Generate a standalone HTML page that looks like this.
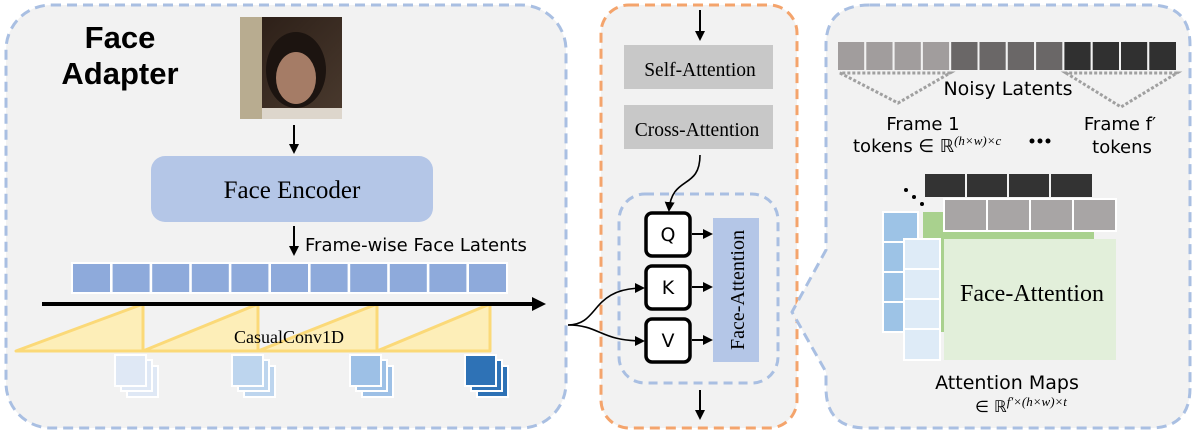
<!DOCTYPE html>
<html><head><meta charset="utf-8"><style>
html,body{margin:0;padding:0;background:#fff;}
svg{display:block;}
.s{font-family:"Liberation Serif",serif;}
.n{font-family:"DejaVu Sans","Liberation Sans",sans-serif;}
</style></head><body>
<svg width="1200" height="437" viewBox="0 0 1200 437" xmlns="http://www.w3.org/2000/svg">
<defs>
<marker id="ah" markerWidth="10" markerHeight="10" refX="8" refY="5" orient="auto" markerUnits="userSpaceOnUse">
<path d="M0,0 L10,5 L0,10 z" fill="#000"/></marker>
<linearGradient id="ph" x1="0" y1="0" x2="1" y2="1"><stop offset="0" stop-color="#2a1d16"/><stop offset="1" stop-color="#4a3a2e"/></linearGradient>
</defs>
<!-- Left panel -->
<rect x="6" y="5" width="560" height="423" rx="45" fill="#f2f2f2" stroke="#a9bfe2" stroke-width="3" stroke-dasharray="10 6"/>
<text x="120" y="48" font-family="Liberation Sans,sans-serif" font-weight="bold" font-size="31" text-anchor="middle">Face</text>
<text x="120" y="84" font-family="Liberation Sans,sans-serif" font-weight="bold" font-size="31" text-anchor="middle">Adapter</text>
<!-- photo stack -->
<rect x="250" y="27" width="92" height="92" fill="#3a2e24"/>
<rect x="247" y="24" width="92" height="92" fill="#d8d0bc"/>
<rect x="244" y="21" width="92" height="92" fill="#c8bea6"/>
<rect x="240" y="17" width="102" height="102" fill="url(#ph)"/>
<rect x="240" y="17" width="22" height="102" fill="#b8ac90"/>
<ellipse cx="296" cy="70" rx="30" ry="38" fill="#1c1410"/>
<ellipse cx="296" cy="78" rx="20" ry="26" fill="#a57c66"/>
<rect x="262" y="108" width="80" height="11" fill="#ddd6cc"/>
<line x1="294" y1="125" x2="294" y2="152" stroke="#000" stroke-width="2" marker-end="url(#ah)"/>
<rect x="151" y="156" width="282" height="66" rx="14" fill="#b4c6e7"/>
<text x="292" y="198" class="s" font-size="25" text-anchor="middle">Face Encoder</text>
<line x1="294" y1="226" x2="294" y2="254" stroke="#000" stroke-width="2" marker-end="url(#ah)"/>
<text x="305" y="251" class="n" font-size="18">Frame-wise Face Latents</text>
<g fill="#8eaadb" stroke="#fff" stroke-width="2">
<rect x="72" y="263" width="39" height="30"/><rect x="111.6" y="263" width="39" height="30"/><rect x="151.2" y="263" width="39" height="30"/><rect x="190.8" y="263" width="39" height="30"/><rect x="230.4" y="263" width="39" height="30"/><rect x="270" y="263" width="39" height="30"/><rect x="309.6" y="263" width="39" height="30"/><rect x="349.2" y="263" width="39" height="30"/><rect x="388.8" y="263" width="39" height="30"/><rect x="428.4" y="263" width="39" height="30"/><rect x="468" y="263" width="39" height="30"/>
</g>
<g fill="#fdeeb8" stroke="#fbd978" stroke-width="3" stroke-linejoin="round">
<path d="M16,351 L143,304 L143,351 z"/><path d="M143,351 L258,304 L258,351 z"/><path d="M258,351 L377,304 L377,351 z"/><path d="M377,351 L490,304 L490,351 z"/>
</g>
<line x1="42" y1="304" x2="536" y2="304" stroke="#000" stroke-width="4"/>
<path d="M532,297 L546,304 L532,311 z" fill="#000"/>
<text x="289" y="343" class="s" font-size="18" text-anchor="middle">CasualConv1D</text>
<g stroke="#fff" stroke-width="2">
<g fill="#dfe8f5"><rect x="127" y="366" width="31" height="31"/><rect x="121" y="360" width="31" height="31"/><rect x="115" y="355" width="31" height="31"/></g>
<g fill="#bdd5ee"><rect x="244" y="366" width="31" height="31"/><rect x="238" y="360" width="31" height="31"/><rect x="232" y="355" width="31" height="31"/></g>
<g fill="#9dc0e6"><rect x="362" y="366" width="31" height="31"/><rect x="356" y="360" width="31" height="31"/><rect x="350" y="355" width="31" height="31"/></g>
<g fill="#2e72b6"><rect x="477" y="366" width="31" height="31"/><rect x="471" y="360" width="31" height="31"/><rect x="465" y="355" width="31" height="31"/></g>
</g>
<!-- Middle panel -->
<rect x="601" y="5" width="196" height="423" rx="28" fill="#f2f2f2" stroke="#f4a46c" stroke-width="3" stroke-dasharray="10 6"/>
<line x1="700" y1="10" x2="700" y2="39" stroke="#000" stroke-width="2" marker-end="url(#ah)"/>
<rect x="624" y="45" width="149" height="44" fill="#c8c8c8"/>
<text x="700" y="76" class="s" font-size="19.5" text-anchor="middle">Self-Attention</text>
<rect x="624" y="105" width="149" height="44" fill="#c8c8c8"/>
<text x="697" y="136" class="s" font-size="19.5" text-anchor="middle">Cross-Attention</text>
<path d="M700,155 C700,190 672,175 669,210" fill="none" stroke="#000" stroke-width="1.6" marker-end="url(#ah)"/>
<rect x="619" y="194" width="159" height="189" rx="26" fill="none" stroke="#a9bfe2" stroke-width="3" stroke-dasharray="9 6"/>
<g fill="#fff" stroke="#000" stroke-width="3.5">
<rect x="646" y="213" width="44" height="43" rx="6"/><rect x="646" y="266" width="44" height="43" rx="6"/><rect x="646" y="319" width="44" height="43" rx="6"/>
</g>
<g class="n" font-size="19" text-anchor="middle"><text x="668" y="241">Q</text><text x="668" y="294">K</text><text x="668" y="347">V</text></g>
<g stroke="#000" stroke-width="2"><line x1="692" y1="234" x2="711" y2="234" marker-end="url(#ah)"/><line x1="692" y1="287" x2="711" y2="287" marker-end="url(#ah)"/><line x1="692" y1="340" x2="711" y2="340" marker-end="url(#ah)"/></g>
<rect x="713" y="218" width="46" height="144" fill="#b4c6e7"/>
<text transform="translate(744,290) rotate(-90)" class="s" font-size="20" text-anchor="middle">Face-Attention</text>
<path d="M568,325 C600,325 590,288 643,288" fill="none" stroke="#000" stroke-width="1.6" marker-end="url(#ah)"/>
<path d="M568,325 C600,325 600,341 643,341" fill="none" stroke="#000" stroke-width="1.6" marker-end="url(#ah)"/>
<line x1="700" y1="390" x2="700" y2="418" stroke="#000" stroke-width="2" marker-end="url(#ah)"/>
<!-- Right panel -->
<path d="M870,5 L1150,5 Q1190,5 1190,45 L1190,388 Q1190,428 1150,428 L866,428 Q826,428 826,388 L826,372 L792,312 L826,250 L826,45 Q826,5 870,5 z" fill="#f2f2f2" stroke="#a9bfe2" stroke-width="3" stroke-dasharray="10 6"/>
<g stroke="#f2f2f2" stroke-width="2">
<g fill="#a19d9d"><rect x="837" y="41" width="28.3" height="30"/><rect x="865.3" y="41" width="28.3" height="30"/><rect x="893.6" y="41" width="28.3" height="30"/><rect x="921.9" y="41" width="28.3" height="30"/></g>
<g fill="#6a6767"><rect x="950.2" y="41" width="28.3" height="30"/><rect x="978.5" y="41" width="28.3" height="30"/><rect x="1006.8" y="41" width="28.3" height="30"/><rect x="1035.1" y="41" width="28.3" height="30"/></g>
<g fill="#303030"><rect x="1063.4" y="41" width="28.3" height="30"/><rect x="1091.7" y="41" width="28.3" height="30"/><rect x="1120" y="41" width="28.3" height="30"/><rect x="1148.3" y="41" width="28.7" height="30"/></g>
</g>
<g fill="none" stroke="#a0a0a0" stroke-width="3" stroke-dasharray="3 2">
<path d="M840,73 L898,103 L950,73 z"/><path d="M1066,73 L1121,107 L1177,73 z"/>
</g>
<text x="1008" y="95" class="n" font-size="19" text-anchor="middle">Noisy Latents</text>
<text x="923" y="130" class="n" font-size="18" text-anchor="middle">Frame 1</text>
<text x="853" y="152" class="n" font-size="18">tokens ∈ ℝ<tspan class="s" font-style="italic" font-size="13" dy="-7">(h×w)×c</tspan></text>
<g fill="#000"><circle cx="1032" cy="141" r="2.5"/><circle cx="1040" cy="141" r="2.5"/><circle cx="1048" cy="141" r="2.5"/></g>
<text x="1120" y="130" class="n" font-size="18" text-anchor="middle">Frame f′</text>
<text x="1122" y="153" class="n" font-size="18" text-anchor="middle">tokens</text>
<!-- attention maps -->
<g stroke="#f2f2f2" stroke-width="2" fill="#333"><rect x="924" y="173" width="42" height="25"/><rect x="966" y="173" width="42" height="25"/><rect x="1008" y="173" width="42" height="25"/><rect x="1050" y="173" width="43" height="25"/></g>
<g fill="#000"><circle cx="906" cy="190" r="2"/><circle cx="914" cy="197" r="2"/><circle cx="922" cy="204" r="2"/></g>
<rect x="923" y="212" width="171" height="120" fill="#a9d18e"/>
<rect x="944" y="239" width="172" height="121" fill="#e2efda"/>
<g stroke="#fff" stroke-width="2" fill="#a8a5a5"><rect x="944" y="199" width="43" height="32"/><rect x="987" y="199" width="43" height="32"/><rect x="1030" y="199" width="43" height="32"/><rect x="1073" y="199" width="43" height="32"/></g>
<g stroke="#fff" stroke-width="2" fill="#9dc3e6"><rect x="883" y="212" width="35" height="30"/><rect x="883" y="242" width="35" height="30"/><rect x="883" y="272" width="35" height="30"/><rect x="883" y="302" width="35" height="30"/></g>
<g stroke="#fff" stroke-width="2" fill="#deebf7"><rect x="904" y="239" width="36" height="30"/><rect x="904" y="269" width="36" height="30"/><rect x="904" y="299" width="36" height="30"/><rect x="904" y="329" width="36" height="31"/></g>
<text x="1032" y="301" class="s" font-size="24" text-anchor="middle">Face-Attention</text>
<text x="1007" y="389" class="n" font-size="19" text-anchor="middle">Attention Maps</text>
<text x="975" y="412" class="n" font-size="16">∈ ℝ<tspan class="s" font-style="italic" font-size="13" dy="-6">f′×(h×w)×t</tspan></text>
</svg>
</body></html>
